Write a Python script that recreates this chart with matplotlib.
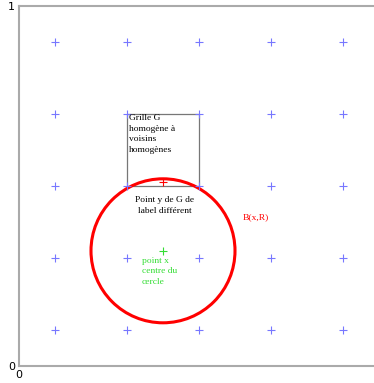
import numpy as np
import matplotlib.pyplot as plt
from matplotlib.patches import Circle, Rectangle

# grille de points
grid_x = [0.1, 0.3, 0.5, 0.7, 0.9]
grid_y = [0.1, 0.3, 0.5, 0.7, 0.9]

# point x (centre) et rayon R
center = (0.4, 0.32)
radius = 0.2
# point y de label different
point_y = (0.4, 0.51)
# cellule homogene
cell_xy = (0.3, 0.5)
cell_w, cell_h = 0.2, 0.2

serif = 'Liberation Serif'
fs = 6.8
ls = 1.4

fig = plt.figure(figsize=(3.74, 3.83), dpi=100)
ax = fig.add_axes([19 / 374, 17 / 383, 360 / 374, 360 / 383])

gx, gy = np.meshgrid(grid_x, grid_y)
ax.plot(gx.ravel(), gy.ravel(), '+', color='#7777ff', ms=6, mew=0.8)

ax.add_patch(Rectangle(cell_xy, cell_w, cell_h, fill=False, ec='#777777', lw=0.9))
ax.add_patch(Circle(center, radius, fill=False, ec='red', lw=2.2))

ax.plot(*center, '+', color='#33dd33', ms=6, mew=0.8)
ax.plot(*point_y, '+', color='red', ms=6, mew=0.8)

ax.text(0.306, 0.699, 'Grille G\nhomogène à\nvoisins\nhomogènes', family=serif,
        fontsize=fs, va='top', ha='left', linespacing=ls)
ax.text(0.405, 0.471, 'Point y de G de\nlabel différent', family=serif,
        fontsize=fs, va='top', ha='center', linespacing=ls)
ax.text(0.622, 0.414, 'B(x,R)', family=serif, fontsize=fs, color='red',
        va='center', ha='left')
ax.text(0.342, 0.303, 'point x\ncentre du\ncercle', family=serif,
        fontsize=fs, color='#33dd33', va='top', ha='left', linespacing=ls)

ax.set_xlim(0, 1)
ax.set_ylim(0, 1)
ax.set_xticks([0])
ax.set_yticks([0, 1])
ax.tick_params(length=0, labelsize=8, pad=3)
for s in ['left', 'top', 'bottom']:
    ax.spines[s].set_color('#aaaaaa')
    ax.spines[s].set_linewidth(1.5)
ax.spines['right'].set_visible(False)

plt.savefig('out.png', dpi=100)
